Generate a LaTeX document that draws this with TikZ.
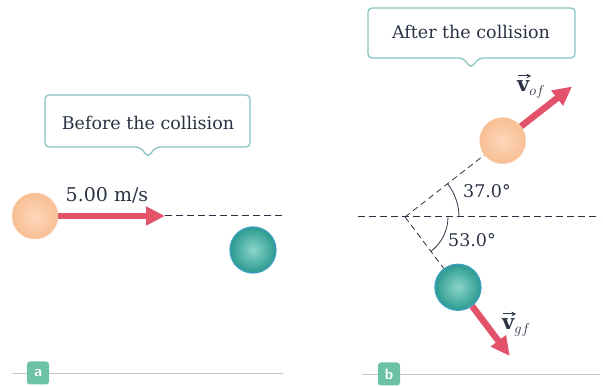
\documentclass[tikz,border=0pt]{standalone}
\usepackage{fontspec}
\setmainfont{DejaVu Serif}
\usetikzlibrary{arrows.meta,calc}
\definecolor{arrowred}{HTML}{E2526B}
\definecolor{calloutc}{HTML}{86C4C2}
\definecolor{orangein}{HTML}{FCD8BC}
\definecolor{orangeout}{HTML}{F8BE92}
\definecolor{tealin}{HTML}{8AD6C9}
\definecolor{tealout}{HTML}{2C9A90}
\definecolor{tealedge}{HTML}{3E9FBE}
\definecolor{labelc}{HTML}{6CC3A3}
\definecolor{inkc}{HTML}{2A3344}
\tikzset{
  oball/.style={circle, minimum size=46pt, inner sep=0pt, shading=radial, inner color=orangein, outer color=orangeout, draw=orangeout!70!white, line width=0.6pt},
  tball/.style={circle, minimum size=46pt, inner sep=0pt, shading=radial, inner color=tealin, outer color=tealout, draw=tealedge, line width=1.3pt},
  vel/.style={draw=arrowred, line width=6.5pt, -{Triangle[length=19pt,width=18pt]}},
  dashline/.style={draw=inkc, line width=1pt, dash pattern=on 7pt off 4pt},
  thindash/.style={draw=inkc, line width=0.8pt, dash pattern=on 6pt off 4pt},
  anglearc/.style={draw=inkc, line width=0.8pt},
  callout/.style={draw=calloutc, line width=1.3pt, rounded corners=4pt, fill=white},
  calltext/.style={font=\fontsize{17.5}{20}\selectfont, text=inkc},
  lbl/.style={font=\fontsize{17.5}{20}\selectfont, text=inkc, inner sep=1pt},
  vlbl/.style={font=\fontsize{21}{23}\selectfont, text=inkc, inner sep=0pt, anchor=base west},
  vecarrow/.style={draw=inkc, line width=1pt, -{Stealth[length=4.5pt,width=4.5pt]}},
  panel/.style={fill=labelc, rounded corners=3pt, minimum width=22pt, minimum height=23pt, inner sep=0pt, text=white, font=\sffamily\bfseries\fontsize{15}{15}\selectfont},
  baseline/.style={draw=gray!45, line width=0.8pt}
}
\begin{document}
\begin{tikzpicture}[x=1pt,y=-1pt]
\useasboundingbox (0,0) rectangle (603,387);
% ---------- panel a ----------
\draw[callout] (45,95) -- (250,95) -- (250,147) -- (156,147) -- (148,157) -- (140,147) -- (45,147) -- cycle;
\node[calltext] (ta) at (148,123) {Before the collision};
\node[oball] (oa) at (35,216) {};
\coordinate (tipa) at (165,216);
\coordinate (enda) at (283,216);
\draw[vel] (oa.east) -- (tipa);
\draw[dashline] (tipa) -- (enda);
\node[lbl, font=\fontsize{19}{21}\selectfont] (va) at (107,195) {5.00 m/s};
\node[tball] (ga) at (253,250) {};
\coordinate (la1) at (12,373);
\coordinate (la2) at (283,373);
\draw[baseline] (la1) -- (la2);
\node[panel] (pa) at (38,373) {a};
% ---------- panel b ----------
\draw[callout] (368,8) -- (575,8) -- (575,58) -- (479,58) -- (471,68) -- (463,58) -- (368,58) -- cycle;
\node[calltext] (tb) at (471,32) {After the collision};
\coordinate (V) at (405,217);
\coordinate (hl) at (358,217);
\coordinate (hr) at (600,217);
\draw[dashline] (hl) -- (hr);
\node[oball] (ob) at ($(V)+(-38:124)$) {};
\node[tball] (gb) at ($(V)+(53:88)$) {};
\draw[thindash] (V) -- (ob);
\draw[thindash] (V) -- (gb);
\draw[anglearc] ($(V)+(0:54)$) arc[start angle=0, end angle=-38, radius=54];
\draw[anglearc] ($(V)+(0:43)$) arc[start angle=0, end angle=53, radius=43];
\node[lbl] (a37) at (487,191) {37.0°};
\node[lbl] (a53) at (472,240) {53.0°};
\coordinate (tipo) at ($(ob)+(-38:88)$);
\coordinate (tipg) at ($(gb)+(53:86)$);
\draw[vel] (ob.38) -- (tipo);
\draw[vel] (gb.-53) -- (tipg);
\node[vlbl] (vo) at (517,92) {$\mathbf{v}_{of}$};
\coordinate (vo1) at (518,76);
\coordinate (vo2) at (531,76);
\draw[vecarrow] (vo1) -- (vo2);
\node[vlbl] (vg) at (502,330) {$\mathbf{v}_{gf}$};
\coordinate (vg1) at (503,314);
\coordinate (vg2) at (516,314);
\draw[vecarrow] (vg1) -- (vg2);
\coordinate (lb1) at (362,374);
\coordinate (lb2) at (600,374);
\draw[baseline] (lb1) -- (lb2);
\node[panel] (pb) at (389,374) {b};
\end{tikzpicture}
\end{document}
